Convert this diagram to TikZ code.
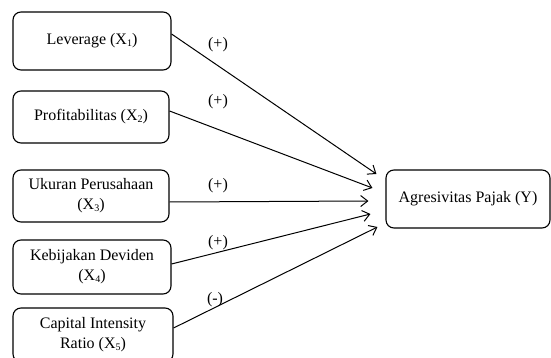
\documentclass[tikz,border=0pt]{standalone}
\usepackage{fontspec}
\setmainfont{Liberation Serif}
\usetikzlibrary{arrows.meta}
\newcommand{\sbs}[1]{\raisebox{-2pt}{\fontsize{10}{10}\selectfont #1}}
\begin{document}
\begin{tikzpicture}[x=1pt,y=-1pt,
  box/.style={draw,line width=1.1pt,rounded corners=8pt,align=center,font=\fontsize{16}{20}\selectfont,inner sep=0pt},
  arr/.style={line width=1pt,-{Straight Barb[length=7pt,width=11pt,line width=1pt]}},
  sign/.style={font=\fontsize{16}{18}\selectfont,inner sep=0pt}]
\useasboundingbox (0,0) rectangle (551,358);
\node[box,minimum width=158pt,minimum height=58pt] (b1) at (92,41) {Leverage (X\sbs{1})};
\node[box,minimum width=156pt,minimum height=52pt] (b2) at (91,117) {Profitabilitas (X\sbs{2})};
\node[box,minimum width=156pt,minimum height=52pt] (b3) at (91,196) {Ukuran Perusahaan\\(X\sbs{3})};
\node[box,minimum width=158pt,minimum height=54pt] (b4) at (92,267) {Kebijakan Deviden\\(X\sbs{4})};
\node[box,minimum width=160pt,minimum height=54pt] (b5) at (93,335) {Capital Intensity\\Ratio (X\sbs{5})};
\node[box,minimum width=164pt,minimum height=58pt] (t) at (468,199) {Agresivitas Pajak (Y)};
\draw[arr] ([yshift=7pt]b1.east) -- ([xshift=-9pt,yshift=25pt]t.west);
\draw[arr] ([yshift=6pt]b2.east) -- ([xshift=-13pt,yshift=11pt]t.west);
\draw[arr] ([yshift=-6pt]b3.east) -- ([xshift=-17pt,yshift=-2pt]t.west);
\draw[arr] ([yshift=3pt]b4.east) -- ([xshift=-15pt,yshift=-15pt]t.west);
\draw[arr] ([yshift=7pt]b5.east) -- ([xshift=-8pt,yshift=-28pt]t.west);
\node[sign] (s1) at (218,45) {(+)};
\node[sign] (s2) at (218,102) {(+)};
\node[sign] (s3) at (218,186) {(+)};
\node[sign] (s4) at (218,243) {(+)};
\node[sign] (s5) at (215,300) {(-)};
\end{tikzpicture}
\end{document}
